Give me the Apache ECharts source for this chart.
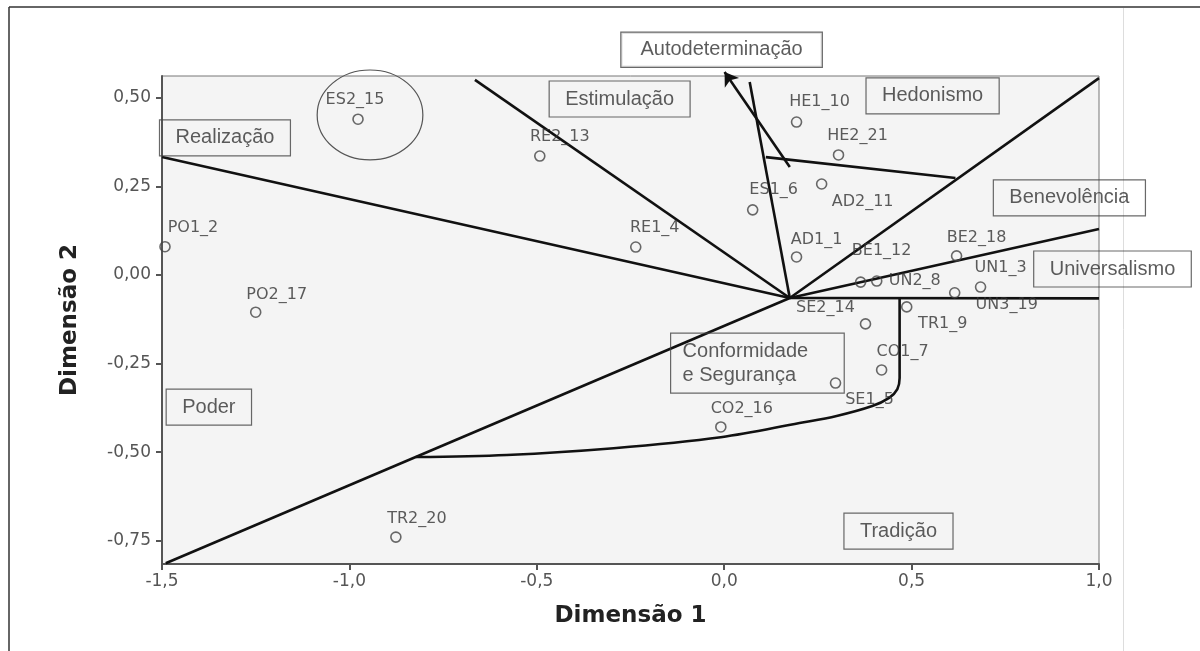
<!DOCTYPE html>
<html>
<head>
<meta charset="utf-8">
<script src="https://cdn.jsdelivr.net/npm/echarts@6/dist/echarts.min.js"></script>
<style>
html,body{margin:0;padding:0;background:#fff;}
#chart{width:1200px;height:651px;}
</style>
</head>
<body>
<div id="chart"></div>
<script>
// ---- Data: MDS point configuration ----
const pointNames = ['ES2_15','RE2_13','PO1_2','PO2_17','RE1_4','ES1_6','HE1_10','HE2_21','AD2_11','AD1_1',
  'BE1_12','UN2_8','BE2_18','UN1_3','UN3_19','TR1_9','SE2_14','CO1_7','SE1_5','CO2_16','TR2_20'];
const dim1 = [-0.977,-0.492,-1.492,-1.250,-0.236,0.076,0.193,0.305,0.260,0.193,
  0.364,0.407,0.620,0.684,0.615,0.487,0.377,0.420,0.297,-0.009,-0.876];
const dim2 = [0.440,0.336,0.080,-0.105,0.079,0.184,0.432,0.339,0.257,0.051,
  -0.020,-0.017,0.054,-0.034,-0.050,-0.090,-0.138,-0.268,-0.305,-0.429,-0.740];

// ---- Region (value type) labels ----
const regionNames = ['Autodeterminação','Estimulação','Hedonismo','Realização','Benevolência',
  'Universalismo','Poder','Conformidade\ne Segurança','Tradição'];
const regionX = [-0.007,-0.279,0.556,-1.332,0.921,1.036,-1.375,-0.143,0.465];
const regionY = [0.636,0.497,0.506,0.387,0.218,0.017,-0.373,-0.249,-0.723];

// ---- Region boundary lines ----
const lineRealizacao = [[-1.5,0.333],[0.175,-0.065]];
const lineEstimulacao = [[-0.665,0.551],[0.175,-0.065]];
const lineAutodet = [[0.068,0.545],[0.175,-0.065]];
const lineHedonismo = [[1.0,0.556],[0.175,-0.065]];
const lineBenevolencia = [[1.0,0.130],[0.175,-0.065]];
const lineUniversalismo = [[1.0,-0.066],[0.175,-0.065]];
const linePoder = [[-1.49,-0.814],[0.175,-0.065]];
const lineHedoSplit = [[0.111,0.333],[0.617,0.274]];
const arrowAutodet = [[0.175,0.305],[0.001,0.573]];
const curveTradicao = [[0.468,-0.065],[0.468,-0.291],[0.462,-0.322],[0.440,-0.347],[0.395,-0.370],
  [0.300,-0.398],[0.201,-0.418],[-0.009,-0.458],[-0.295,-0.489],[-0.580,-0.508],[-0.823,-0.514]];

// ---- Ticks ----
const yTicks = [-0.75,-0.5,-0.25,0,0.25,0.5];

// ---- Styling (label offsets, px) ----
const labelOffsets = {
  'ES2_15':[-3,-19],'RE2_13':[20,-19],'PO1_2':[28,-19],'PO2_17':[21,-17],'RE1_4':[19,-19],
  'ES1_6':[21,-20],'HE1_10':[23,-20],'HE2_21':[19,-19],'AD2_11':[41,18],'AD1_1':[20,-17],
  'BE1_12':[21,-31],'UN2_8':[38,0],'BE2_18':[20,-18],'UN1_3':[20,-19],'UN3_19':[52,12],
  'TR1_9':[36,17],'SE2_14':[-40,-16],'CO1_7':[21,-18],'SE1_5':[34,17],'CO2_16':[21,-18],'TR2_20':[21,-18]
};

const fmt = (v, d) => (v < 0 ? '-' : '') + Math.abs(v).toFixed(d).replace('.', ',');

const lineStyle = {color:'#111', width:2.6};
function boundary(data, extra){
  return Object.assign({type:'line', data:data, symbol:'none', silent:true, z:3,
    lineStyle:lineStyle, animation:false}, extra || {});
}

const pointData = pointNames.map((n,i)=>({
  value:[dim1[i],dim2[i]], name:n,
  label:{offset:labelOffsets[n]}
}));

const regionData = regionNames.map((n,i)=>{
  const d = {value:[regionX[i],regionY[i]], name:n};
  if (i === 0) d.label = {backgroundColor:'#fff', padding:[7,19]};
  if (n.indexOf('\n') >= 0) d.label = {align:'left', padding:[6,36,6,12], lineHeight:24, fontSize:20};
  return d;
});

const chart = echarts.init(document.getElementById('chart'), null, {renderer:'canvas'});
const option = {
  animation:false,
  backgroundColor:'#fff',
  grid:{left:162, right:101, top:76, bottom:87, show:true, backgroundColor:'#f4f4f4',
    borderColor:'#777', borderWidth:1},
  xAxis:{type:'value', min:-1.5, max:1.0, interval:0.5,
    name:'Dimensão 1', nameLocation:'middle', nameGap:41,
    nameTextStyle:{fontFamily:'DejaVu Sans', fontWeight:'bold', fontSize:23, color:'#222'},
    axisLine:{onZero:false, lineStyle:{color:'#555', width:2}},
    axisTick:{length:6, lineStyle:{color:'#555', width:2}},
    axisLabel:{formatter:v=>fmt(v,1), color:'#555', fontSize:17, fontFamily:'DejaVu Sans', margin:9},
    splitLine:{show:false}},
  yAxis:{type:'value', min:-0.816, max:0.562,
    name:'Dimensão 2', nameLocation:'middle', nameGap:80,
    nameTextStyle:{fontFamily:'DejaVu Sans', fontWeight:'bold', fontSize:23, color:'#222'},
    axisLine:{onZero:false, lineStyle:{color:'#555', width:2}},
    axisTick:{length:6, customValues:yTicks, lineStyle:{color:'#555', width:2}},
    axisLabel:{customValues:yTicks, formatter:v=>fmt(v,2), color:'#555', fontSize:17,
      fontFamily:'DejaVu Sans', margin:11},
    splitLine:{show:false}},
  series:[
    boundary(lineRealizacao),
    boundary(lineEstimulacao),
    boundary(lineAutodet),
    boundary(lineHedonismo),
    boundary(lineBenevolencia),
    boundary(lineUniversalismo),
    boundary(linePoder),
    boundary(lineHedoSplit),
    boundary(curveTradicao, {smooth:0.35}),
    {type:'lines', coordinateSystem:'cartesian2d', clip:false, silent:true, z:3,
      data:[{coords:arrowAutodet}], symbol:['none','arrow'], symbolSize:[10,13],
      lineStyle:{color:'#111', width:2.6, opacity:1}},
    {type:'scatter', data:pointData, symbol:'circle', symbolSize:10, z:5, silent:true,
      itemStyle:{color:'rgba(0,0,0,0)', borderColor:'#444', borderWidth:1.6},
      label:{show:true, position:'inside', formatter:p=>p.name, color:'#333',
        fontSize:16, fontFamily:'DejaVu Sans'}},
    {type:'scatter', data:regionData, symbolSize:1, clip:false, z:6, silent:true,
      itemStyle:{color:'rgba(0,0,0,0)'},
      label:{show:true, position:'inside', formatter:p=>p.name, color:'#333', fontSize:20,
        fontFamily:'Liberation Sans', borderColor:'#444', borderWidth:1.2, padding:[8,16],
        lineHeight:20}}
  ]
};
chart.setOption(option);

// Annotation ellipse around ES2_15 and figure frame
const ellC = chart.convertToPixel({gridIndex:0}, [-0.945, 0.452]);
const ellR = chart.convertToPixel({gridIndex:0}, [-0.945 + 0.141, 0.452 - 0.127]);
chart.setOption({
  graphic:[
    {type:'ellipse', shape:{cx:ellC[0], cy:ellC[1], rx:ellR[0]-ellC[0], ry:ellR[1]-ellC[1]},
      style:{fill:'none', stroke:'#555', lineWidth:1.2}, z:10, silent:true},
    {type:'line', shape:{x1:9, y1:7, x2:1200, y2:7}, style:{stroke:'#333', lineWidth:1.5}, silent:true},
    {type:'line', shape:{x1:9, y1:7, x2:9, y2:651}, style:{stroke:'#333', lineWidth:1.5}, silent:true},
    {type:'line', shape:{x1:1123.5, y1:8, x2:1123.5, y2:651}, style:{stroke:'#ddd', lineWidth:1}, silent:true}
  ]
});
</script>
</body>
</html>
